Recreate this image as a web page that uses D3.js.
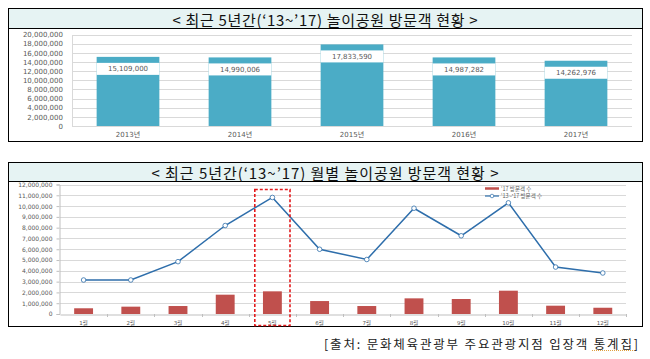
<!DOCTYPE html>
<html>
<head>
<meta charset="utf-8">
<script src="https://cdn.jsdelivr.net/npm/d3@7"></script>
<style>
  body { margin: 0; background: #fff; }
  svg { display: block; }
  .tick-label { font-family: "DejaVu Sans", "Noto Sans CJK KR", sans-serif; fill: #595959; }
  .kr { font-family: "Noto Sans CJK KR", sans-serif; }
</style>
</head>
<body>
<svg width="650" height="359"></svg>
<script>
// yearly totals
const years = ["2013년", "2014년", "2015년", "2016년", "2017년"];
const yearVisitors = [15109000, 14990006, 17833590, 14987282, 14262976];
const yearTicks = [0, 2000000, 4000000, 6000000, 8000000, 10000000, 12000000, 14000000, 16000000, 18000000, 20000000];

// monthly
const months = ["1월", "2월", "3월", "4월", "5월", "6월", "7월", "8월", "9월", "10월", "11월", "12월"];
const visitors17 = [530000, 680000, 740000, 1790000, 2100000, 1200000, 740000, 1450000, 1390000, 2160000, 770000, 580000];
const visitors1317 = [3150000, 3150000, 4850000, 8200000, 10800000, 6000000, 5050000, 9800000, 7250000, 10300000, 4350000, 3800000];
const monthTicks = [0, 1000000, 2000000, 3000000, 4000000, 5000000, 6000000, 7000000, 8000000, 9000000, 10000000, 11000000, 12000000];
const highlightMonth = "5월";

const title1 = "< 최근 5년간(‘13~’17) 놀이공원 방문객 현황 >";
const title2 = "< 최근 5년간(‘13~’17) 월별 놀이공원 방문객 현황 >";
const legendLabels = ["‘17 방문객 수", "‘13~’17 방문객 수"];
const sourceText = "[출처: 문화체육관광부 주요관광지점 입장객 통계집]";

const TEAL = "#4bacc6";
const RED = "#c0504d";
const BLUE = "#2e6eab";
const GRID = "#d9d9d9";
const fmt = d3.format(",");

var svg = d3.select("svg");

function panel(y0, y1, bandH, title, titleW) {
	svg.append("rect")
		.attr("x", 8.5).attr("y", y0 + 0.5)
		.attr("width", 634).attr("height", y1 - y0)
		.attr("fill", "#fff").attr("stroke", "#000");
	svg.append("rect")
		.attr("x", 8.5).attr("y", y0 + 0.5)
		.attr("width", 634).attr("height", bandH)
		.attr("fill", "#e6f3f3").attr("stroke", "#000");
	svg.append("text")
		.attr("class", "kr")
		.attr("x", 325).attr("y", y0 + bandH / 2 + 1)
		.attr("text-anchor", "middle")
		.attr("dominant-baseline", "central")
		.attr("font-size", 15)
		.attr("textLength", titleW)
		.attr("fill", "#111")
		.text(title);
}

// ---------- top chart ----------
panel(8, 141, 20, title1, 305);

var x1 = d3.scaleBand().domain(years).range([72, 632]).paddingInner(0.44).paddingOuter(0.22);
var y1 = d3.scaleLinear().domain([0, 20000000]).range([126, 34.5]);

var g1 = svg.append("g");
g1.selectAll(".grid").data(yearTicks.slice(1)).enter().append("line")
	.attr("x1", 72).attr("x2", 632)
	.attr("y1", d => Math.round(y1(d)) + 0.5).attr("y2", d => Math.round(y1(d)) + 0.5)
	.attr("stroke", GRID);

var ax1 = g1.append("g").attr("transform", "translate(72,0)")
	.call(d3.axisLeft(y1).tickValues(yearTicks).tickFormat(fmt).tickSize(0).tickPadding(9));
ax1.select(".domain").attr("stroke", GRID);
ax1.selectAll("text").attr("class", "tick-label").attr("font-size", 7).attr("fill", "#595959");

g1.append("line").attr("x1", 72).attr("x2", 632)
	.attr("y1", y1(0) + 0.5).attr("y2", y1(0) + 0.5).attr("stroke", GRID);

g1.selectAll(".bar").data(yearVisitors).enter().append("rect")
	.attr("x", (d, i) => x1(years[i]))
	.attr("y", d => y1(d))
	.attr("width", x1.bandwidth())
	.attr("height", d => y1(0) - y1(d))
	.attr("fill", TEAL);

g1.selectAll(".lblbox").data(yearVisitors).enter().append("rect")
	.attr("x", (d, i) => x1(years[i]))
	.attr("y", d => y1(d) + 6)
	.attr("width", x1.bandwidth())
	.attr("height", 12)
	.attr("fill", "#fff");

g1.selectAll(".lbl").data(yearVisitors).enter().append("text")
	.attr("class", "tick-label")
	.attr("x", (d, i) => x1(years[i]) + x1.bandwidth() / 2)
	.attr("y", d => y1(d) + 12.5)
	.attr("text-anchor", "middle")
	.attr("dominant-baseline", "central")
	.attr("font-size", 7)
	.attr("fill", "#404040")
	.text(d => fmt(d));

g1.selectAll(".xl").data(years).enter().append("text")
	.attr("class", "tick-label")
	.attr("x", d => x1(d) + x1.bandwidth() / 2)
	.attr("y", 135)
	.attr("text-anchor", "middle")
	.attr("dominant-baseline", "central")
	.attr("font-size", 7)
	.text(d => d);

// ---------- bottom chart ----------
panel(162, 326, 19, title2, 347);

var x2 = d3.scaleBand().domain(months).range([60, 626.4]).paddingInner(0.6).paddingOuter(0.3);
var xb = d3.scaleBand().domain(months).range([60, 626.4]);
var y2 = d3.scaleLinear().domain([0, 12000000]).range([314, 184.5]);

var g2 = svg.append("g");
g2.selectAll(".grid").data(monthTicks.slice(1)).enter().append("line")
	.attr("x1", 60).attr("x2", 626)
	.attr("y1", d => Math.round(y2(d)) + 0.5).attr("y2", d => Math.round(y2(d)) + 0.5)
	.attr("stroke", GRID);

var ax2 = g2.append("g").attr("transform", "translate(59.5,0)")
	.call(d3.axisLeft(y2).tickValues(monthTicks).tickFormat(fmt).tickSize(3).tickPadding(4));
ax2.select(".domain").attr("stroke", "#bfbfbf");
ax2.selectAll("line").attr("stroke", "#bfbfbf");
ax2.selectAll("text").attr("class", "tick-label").attr("font-size", 6).attr("fill", "#595959");

var ax2x = g2.append("g").attr("transform", "translate(0," + (y2(0) + 0.5) + ")")
	.call(d3.axisBottom(xb).tickSize(0).tickPadding(7));
ax2x.select(".domain").attr("stroke", "#bfbfbf");
ax2x.selectAll(".tick line").remove();
ax2x.selectAll("text").attr("class", "tick-label").attr("font-size", 5.5).attr("fill", "#404040");
g2.selectAll(".xt").data(months.slice(1).concat(["end"])).enter().append("line")
	.attr("x1", (d, i) => Math.round(xb(months[i]) + xb.bandwidth()) + 0.5)
	.attr("x2", (d, i) => Math.round(xb(months[i]) + xb.bandwidth()) + 0.5)
	.attr("y1", y2(0)).attr("y2", y2(0) + 3)
	.attr("stroke", "#bfbfbf");

g2.selectAll(".bar").data(visitors17).enter().append("rect")
	.attr("x", (d, i) => x2(months[i]))
	.attr("y", d => y2(d))
	.attr("width", x2.bandwidth())
	.attr("height", d => y2(0) - y2(d))
	.attr("fill", RED);

var line = d3.line()
	.x((d, i) => xb(months[i]) + xb.bandwidth() / 2)
	.y(d => y2(d));
g2.append("path").datum(visitors1317)
	.attr("d", line)
	.attr("fill", "none")
	.attr("stroke", BLUE)
	.attr("stroke-width", 1.5);
g2.selectAll(".pt").data(visitors1317).enter().append("circle")
	.attr("cx", (d, i) => xb(months[i]) + xb.bandwidth() / 2)
	.attr("cy", d => y2(d))
	.attr("r", 2.3)
	.attr("fill", "#fff")
	.attr("stroke", BLUE)
	.attr("stroke-width", 0.8);

// highlight box around May
var hi = months.indexOf(highlightMonth);
svg.append("rect")
	.attr("x", xb(highlightMonth) + 6)
	.attr("y", y2(visitors1317[hi]) - 8)
	.attr("width", xb.bandwidth() - 12)
	.attr("height", 325.5 - (y2(visitors1317[hi]) - 8))
	.attr("fill", "none")
	.attr("stroke", "#e31a1c")
	.attr("stroke-width", 1.6)
	.attr("stroke-dasharray", "3,2");

// legend
var lg = svg.append("g").attr("transform", "translate(485,188.5)");
lg.append("line").attr("x1", 0).attr("x2", 14).attr("y1", 0).attr("y2", 0)
	.attr("stroke", RED).attr("stroke-width", 2.5);
lg.append("line").attr("x1", 0).attr("x2", 14).attr("y1", 7.5).attr("y2", 7.5)
	.attr("stroke", BLUE).attr("stroke-width", 1.2);
lg.append("circle").attr("cx", 7).attr("cy", 7.5).attr("r", 1.8)
	.attr("fill", "#fff").attr("stroke", BLUE).attr("stroke-width", 0.7);
lg.selectAll(".lt").data(legendLabels).enter().append("text")
	.attr("class", "kr")
	.attr("x", 16).attr("y", (d, i) => i * 7.5)
	.attr("dominant-baseline", "central")
	.attr("font-size", 5.5)
	.attr("fill", "#595959")
	.text(d => d);

// source
svg.append("text")
	.attr("class", "kr")
	.attr("x", 638).attr("y", 343)
	.attr("text-anchor", "end")
	.attr("dominant-baseline", "central")
	.attr("font-size", 12.5)
	.attr("textLength", 314)
	.attr("fill", "#222")
	.text(sourceText);
svg.append("line")
	.attr("x1", 592).attr("x2", 633).attr("y1", 350.5).attr("y2", 350.5)
	.attr("stroke", "#e0a040").attr("stroke-width", 1).attr("stroke-dasharray", "1,1");
</script>
</body>
</html>
